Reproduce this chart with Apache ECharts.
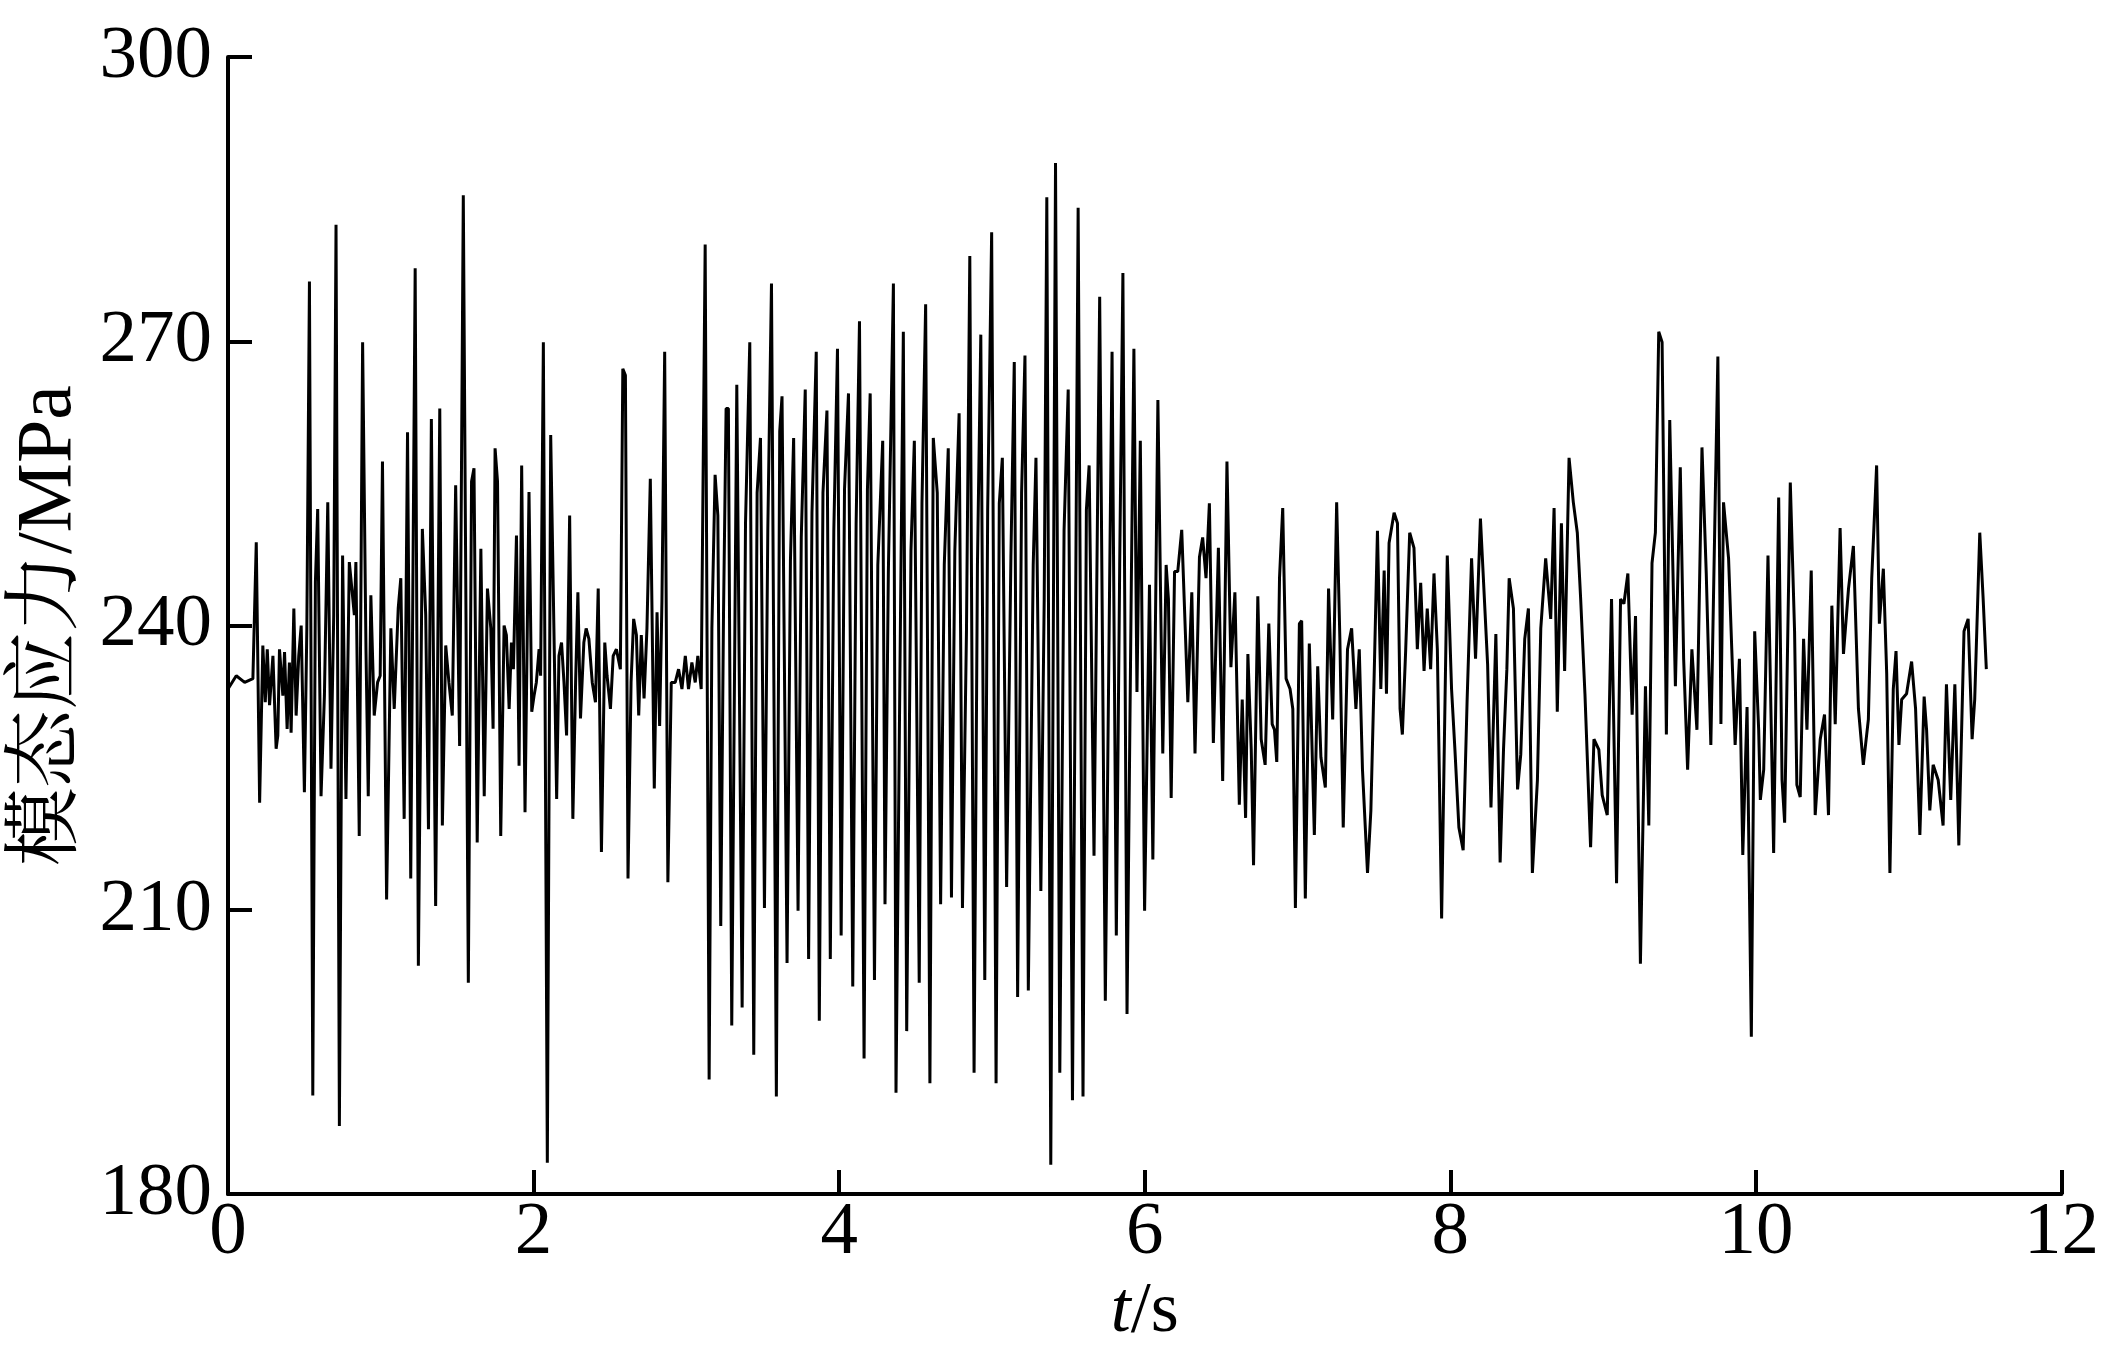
<!DOCTYPE html>
<html>
<head>
<meta charset="utf-8">
<script src="https://cdn.jsdelivr.net/npm/echarts@6/dist/echarts.min.js"></script>
<style>
html,body{margin:0;padding:0;background:#fff;}
#chart{width:2102px;height:1353px;}
</style>
</head>
<body>
<div id="chart"></div>
<script>
// Modal stress (MPa) vs time (s), segment by segment
const seg1 = [[0,233.3],[0.054,234.7],[0.109,234.0],[0.163,234.4],[0.185,248.8],[0.207,221.3],[0.228,237.9],[0.244,231.9],[0.257,237.5],[0.272,231.6],[0.294,236.8],[0.315,227.0],[0.326,228.4],[0.337,237.5],[0.359,232.6],[0.370,237.2],[0.387,229.1],[0.402,236.1],[0.413,228.7],[0.431,241.8],[0.446,230.5],[0.463,236.8],[0.479,240.0],[0.500,222.4],[0.516,239.7],[0.533,276.3],[0.555,190.4],[0.572,244.6],[0.587,252.3],[0.609,222.0],[0.631,232.6],[0.653,253.0],[0.674,224.9],[0.692,241.1],[0.707,282.3],[0.729,187.2],[0.750,247.4],[0.772,221.7],[0.794,246.7],[0.827,241.1],[0.837,246.7],[0.859,217.8],[0.881,269.9],[0.903,237.5],[0.918,222.0],[0.935,243.2],[0.957,230.5],[0.979,234.0],[0.996,234.7],[1.011,257.3],[1.038,211.1],[1.066,239.7],[1.088,231.2],[1.114,241.8],[1.131,245.0],[1.153,219.6],[1.175,260.4],[1.196,213.3],[1.225,277.7],[1.246,204.1],[1.272,250.2],[1.294,241.1],[1.312,218.5],[1.331,261.8],[1.359,210.4],[1.386,262.9],[1.403,218.9],[1.425,237.9],[1.446,234.0],[1.468,230.5],[1.490,254.8],[1.516,227.3],[1.540,285.4],[1.573,202.3],[1.594,255.2],[1.610,256.6],[1.631,217.1]];
const seg2 = [[1.655,248.1],[1.677,222.0],[1.698,243.9],[1.720,239.7],[1.735,229.1],[1.748,258.7],[1.764,255.2],[1.785,217.8],[1.807,240.0],[1.822,239.0],[1.840,231.2],[1.855,238.2],[1.868,235.4],[1.888,249.5],[1.905,225.2],[1.922,256.9],[1.944,220.3],[1.970,254.1],[1.988,230.9],[2.003,232.6],[2.018,234.0],[2.036,237.5],[2.046,234.7],[2.064,269.9],[2.090,183.3],[2.112,260.1],[2.133,239.7],[2.151,221.7],[2.166,236.8],[2.183,238.2],[2.199,234.0],[2.216,228.4],[2.236,251.6],[2.257,219.6],[2.275,234.0],[2.290,243.5],[2.307,230.2],[2.329,238.2],[2.344,239.7],[2.362,238.6],[2.384,234.0],[2.405,231.9],[2.423,243.9],[2.444,216.1],[2.466,238.2],[2.481,234.7],[2.503,231.2],[2.521,236.8],[2.542,237.5],[2.568,235.4],[2.584,267.1],[2.601,266.4],[2.618,213.3],[2.638,234.0],[2.655,240.7],[2.673,239.0],[2.688,230.5],[2.705,239.0],[2.723,232.3],[2.742,239.7],[2.764,255.5],[2.790,222.8],[2.808,241.4],[2.825,229.4],[2.840,242.5],[2.858,268.9],[2.879,212.9],[2.901,234.0],[2.927,234.0],[2.949,235.4],[2.971,233.3],[2.993,236.8],[3.014,233.3],[3.036,236.1],[3.058,234.0],[3.075,236.8],[3.097,233.3],[3.123,280.2],[3.149,192.1],[3.167,239.7],[3.188,255.9],[3.206,251.6],[3.225,208.3],[3.243,241.1],[3.260,262.9],[3.275,262.9],[3.297,197.8],[3.330,265.4]];
const seg3 = [[3.365,199.7],[3.387,250.8],[3.415,269.9],[3.441,194.7],[3.463,254.0],[3.485,259.8],[3.511,210.2],[3.533,250.1],[3.557,276.1],[3.589,190.3],[3.611,260.5],[3.626,264.2],[3.659,204.4],[3.681,246.8],[3.702,259.8],[3.731,209.9],[3.752,249.3],[3.778,264.9],[3.800,204.8],[3.822,251.9],[3.850,268.9],[3.870,198.3],[3.894,254.0],[3.920,262.7],[3.942,204.8],[3.965,250.0],[3.989,269.2],[4.013,207.3],[4.035,254.4],[4.061,264.5],[4.089,201.9],[4.111,250.8],[4.133,272.1],[4.163,194.3],[4.185,254.4],[4.203,264.5],[4.231,202.6],[4.253,246.4],[4.285,259.5],[4.300,210.6],[4.322,245.7],[4.355,276.1],[4.372,190.7],[4.398,235.6],[4.420,271.0],[4.442,197.2],[4.470,247.9],[4.492,259.5],[4.524,202.3],[4.542,252.9],[4.566,273.9],[4.594,191.7],[4.616,259.8],[4.642,254.0],[4.664,210.6],[4.688,246.4],[4.714,258.7],[4.735,211.3],[4.757,247.9],[4.785,262.4],[4.807,210.2],[4.833,239.2],[4.855,279.0],[4.883,192.8],[4.905,246.4],[4.927,270.7],[4.953,202.6]];
const seg4 = [[4.972,252.2],[4.998,281.5],[5.027,191.7],[5.048,252.9],[5.068,257.7],[5.096,212.4],[5.124,247.2],[5.146,267.8],[5.168,200.8],[5.194,254.0],[5.216,268.5],[5.238,201.5],[5.270,246.4],[5.288,257.7],[5.320,212.0],[5.342,242.8],[5.359,285.2],[5.385,183.1],[5.416,288.8],[5.444,192.8],[5.472,250.1],[5.499,264.9],[5.527,189.9],[5.564,284.1],[5.596,190.3],[5.618,252.2],[5.636,256.9],[5.668,215.7],[5.705,274.7],[5.742,200.4],[5.770,244.3],[5.786,268.9],[5.814,207.3],[5.836,246.4],[5.857,277.2],[5.884,199.0],[5.912,244.3],[5.929,269.2],[5.949,233.0],[5.971,259.5],[5.999,209.9],[6.031,244.3],[6.053,215.3],[6.086,263.8],[6.118,226.5],[6.140,246.4],[6.155,242.8],[6.173,221.8],[6.195,245.7],[6.216,245.7],[6.242,250.1],[6.282,231.9],[6.308,243.5],[6.329,226.5],[6.358,247.2],[6.379,249.3],[6.401,245.0],[6.423,252.9],[6.449,227.6],[6.482,248.2],[6.510,223.6],[6.538,257.3],[6.564,235.6],[6.590,243.5],[6.619,221.1]];
const seg5 = [[6.638,232.2],[6.660,219.7],[6.675,237.0],[6.697,226.9],[6.712,214.7],[6.740,243.1],[6.762,228.0],[6.788,225.3],[6.812,240.2],[6.834,229.6],[6.849,229.0],[6.864,225.6],[6.882,245.0],[6.903,252.4],[6.925,234.4],[6.951,233.3],[6.969,231.2],[6.986,210.2],[7.012,240.2],[7.027,240.5],[7.051,211.2],[7.077,238.1],[7.110,217.9],[7.132,235.7],[7.153,226.1],[7.182,222.9],[7.203,243.9],[7.230,230.1],[7.256,253.0],[7.277,238.6],[7.299,218.7],[7.327,237.5],[7.354,239.7],[7.382,231.2],[7.404,237.5],[7.425,224.8],[7.458,213.9],[7.480,220.5],[7.501,234.4],[7.523,250.0],[7.545,233.3],[7.567,245.8],[7.582,232.8],[7.599,248.7],[7.632,251.9],[7.654,250.8],[7.671,231.2],[7.686,228.5],[7.708,237.5],[7.734,249.8],[7.762,248.2],[7.784,237.5],[7.806,244.5],[7.828,235.2],[7.849,241.8],[7.871,235.4],[7.893,245.5],[7.915,237.5],[7.943,209.1],[7.980,247.4],[8.008,233.3],[8.030,226.9],[8.056,218.7],[8.084,216.3],[8.110,232.2],[8.139,247.1],[8.165,236.5],[8.197,251.3]];
const seg6 = [[8.244,235.9],[8.266,220.8],[8.298,239.1],[8.326,215.0],[8.348,226.9],[8.370,235.4],[8.385,245.0],[8.413,241.8],[8.440,222.7],[8.461,226.4],[8.487,238.6],[8.511,241.8],[8.537,213.9],[8.570,223.7],[8.592,239.7],[8.624,247.1],[8.657,240.7],[8.679,252.4],[8.700,230.9],[8.727,250.8],[8.748,235.2],[8.777,257.7],[8.805,253.0],[8.831,249.8],[8.853,242.8],[8.881,232.8],[8.918,216.6],[8.940,228.0],[8.972,226.9],[8.994,222.1],[9.027,220.0],[9.055,242.8],[9.088,212.8],[9.114,242.8],[9.136,242.3],[9.162,245.5],[9.190,230.6],[9.212,241.0],[9.244,204.3],[9.277,233.6],[9.299,218.9],[9.320,246.6],[9.342,249.8],[9.364,271.0],[9.386,269.9],[9.414,228.5],[9.436,261.7],[9.473,233.6],[9.505,256.7],[9.527,236.5],[9.553,224.8],[9.581,237.5],[9.614,229.0],[9.647,258.8],[9.675,245.5],[9.705,227.4],[9.734,253.5],[9.751,268.4],[9.771,229.6],[9.788,253.0],[9.821,247.1],[9.842,237.5],[9.864,227.4],[9.892,236.5],[9.914,215.8]];
const seg7 = [[9.942,231.4],[9.970,196.6],[9.992,239.4],[10.018,229.0],[10.029,221.6],[10.051,224.8],[10.079,247.4],[10.116,216.0],[10.149,253.5],[10.171,223.7],[10.188,219.2],[10.225,255.1],[10.253,239.4],[10.268,223.2],[10.290,221.9],[10.312,238.6],[10.334,229.0],[10.362,245.8],[10.388,220.0],[10.421,228.0],[10.449,230.6],[10.475,220.0],[10.497,242.1],[10.519,229.6],[10.551,250.3],[10.573,237.0],[10.606,243.9],[10.638,248.4],[10.671,231.2],[10.703,225.3],[10.736,230.1],[10.758,245.0],[10.790,256.9],[10.808,240.2],[10.834,246.0],[10.856,234.9],[10.877,213.9],[10.899,233.3],[10.917,237.3],[10.936,227.4],[10.954,232.2],[10.986,232.8],[11.019,236.2],[11.045,231.2],[11.073,217.9],[11.101,232.5],[11.117,229.0],[11.138,220.5],[11.160,225.3],[11.193,223.7],[11.225,218.9],[11.247,233.8],[11.275,221.6],[11.302,233.8],[11.328,216.8],[11.362,239.4],[11.389,240.7],[11.415,228.0],[11.432,232.2],[11.465,249.8],[11.487,242.9],[11.508,235.4]];

const xTicks = [0, 2, 4, 6, 8, 10, 12];
const yTicks = [180, 210, 240, 270, 300];
const xName = '{i|t}/s';
const yName = '模态应力/MPa';

const stress = [].concat(seg1, seg2, seg3, seg4, seg5, seg6, seg7);

const serif = "'Liberation Serif', 'Times New Roman', 'Noto Serif CJK SC', 'Noto Sans CJK SC', serif";
const chart = echarts.init(document.getElementById('chart'), null, {renderer: 'canvas'});
const axisLine = {show: true, onZero: false, lineStyle: {color: '#000', width: 4}};
const axisTick = {show: true, inside: true, length: 24, lineStyle: {color: '#000', width: 4}};
chart.setOption({
  animation: false,
  backgroundColor: '#fff',
  grid: {left: 228, right: 35, top: 57, bottom: 143, containLabel: false},
  xAxis: {
    type: 'value',
    min: xTicks[0], max: xTicks[xTicks.length - 1], interval: xTicks[1] - xTicks[0],
    axisLine: axisLine, axisTick: axisTick, splitLine: {show: false},
    axisLabel: {color: '#000', fontFamily: serif, fontSize: 75, margin: 2, showMaxLabel: true, showMinLabel: true},
    name: xName, nameLocation: 'middle', nameGap: 62,
    nameTextStyle: {color: '#000', fontFamily: serif, fontSize: 72,
      rich: {i: {fontStyle: 'italic', fontFamily: serif, fontSize: 72, color: '#000'}}}
  },
  yAxis: {
    type: 'value',
    min: yTicks[0], max: yTicks[yTicks.length - 1], interval: yTicks[1] - yTicks[0],
    axisLine: axisLine, axisTick: axisTick, splitLine: {show: false},
    axisLabel: {color: '#000', fontFamily: serif, fontSize: 75, margin: 16, showMaxLabel: true, showMinLabel: true},
    name: yName, nameLocation: 'middle', nameGap: 128, nameRotate: 90,
    nameTextStyle: {color: '#000', fontFamily: serif, fontSize: 78}
  },
  series: [{
    type: 'line',
    data: stress,
    showSymbol: false,
    symbol: 'none',
    smooth: false,
    lineStyle: {color: '#000', width: 3},
    z: 1
  }]
});
</script>
</body>
</html>
